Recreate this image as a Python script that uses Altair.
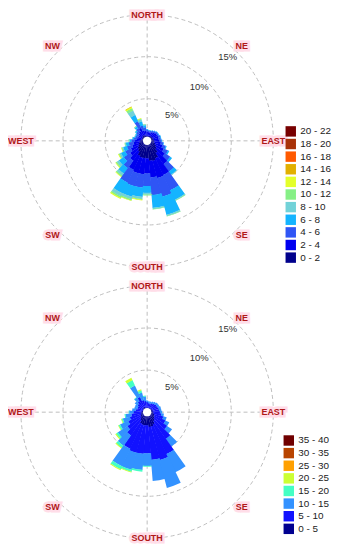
import altair as alt
import pandas as pd

# ---------------- data ----------------
directions = [0, 10, 20, 30, 40, 50, 60, 70, 80, 90, 100, 110, 120, 130, 140, 150, 160, 170,
              180, 190, 200, 210, 220, 230, 240, 250, 260, 270, 280, 290, 300, 310, 320, 330, 340, 350]

# Top rose: speed classes 0-2 ... 20-22 (percent frequency per direction)
top_bins = ["0 - 2", "2 - 4", "4 - 6", "6 - 8", "8 - 10", "10 - 12", "12 - 14",
            "14 - 16", "16 - 18", "18 - 20", "20 - 22"]
top_colors = ["#00008c", "#0000f0", "#2f55f5", "#14b4ff", "#72d2d8", "#86f086",
              "#e4ff2a", "#e2b000", "#ff5a00", "#a83208", "#780000"]
top_0_2 = [0.6, 0.6, 0.6, 0.65, 0.7, 0.75, 0.75, 0.8, 0.8, 0.85, 0.9, 1.0, 1.2, 1.4, 1.8, 2.3, 2.5, 2.4,
           2.1, 2.1, 2.1, 2.0, 1.6, 1.4, 1.2, 1.05, 0.95, 0.85, 0.75, 0.7, 0.7, 0.75, 0.8, 0.8, 0.7, 0.65]
top_2_4 = [0.5, 0.45, 0.45, 0.5, 0.55, 0.6, 0.6, 0.6, 0.6, 0.65, 0.75, 0.9, 1.0, 1.2, 1.6, 2.2, 2.1, 2.0,
           1.8, 1.9, 1.9, 1.8, 1.3, 1.1, 0.95, 0.8, 0.7, 0.6, 0.5, 0.45, 0.45, 0.5, 0.6, 0.9, 0.6, 0.55]
top_4_6 = [0.25, 0.2, 0.2, 0.2, 0.2, 0.2, 0.2, 0.25, 0.25, 0.25, 0.3, 0.4, 0.55, 0.75, 1.1, 2.0, 2.3, 2.1,
           1.5, 1.6, 1.6, 1.7, 1.1, 0.9, 0.75, 0.65, 0.55, 0.45, 0.35, 0.3, 0.3, 0.35, 0.45, 0.9, 0.6, 0.45]
top_6_8 = [0.05, 0.05, 0.05, 0.05, 0.05, 0.05, 0.05, 0.05, 0.05, 0.05, 0.05, 0.1, 0.15, 0.25, 0.45, 1.25, 2.2, 1.5,
           0.8, 1.1, 1.3, 1.4, 0.8, 0.7, 0.55, 0.45, 0.35, 0.2, 0.15, 0.1, 0.1, 0.15, 0.25, 0.8, 0.5, 0.25]
top_8_10 = [0, 0, 0, 0, 0, 0, 0, 0, 0, 0, 0, 0, 0, 0, 0.05, 0.1, 0.15, 0.15,
            0.2, 0.25, 0.3, 0.4, 0.3, 0.3, 0.2, 0.15, 0.1, 0.07, 0.05, 0.05, 0.05, 0.05, 0.07, 0.6, 0.25, 0.07]
top_10_12 = [0, 0, 0, 0, 0, 0, 0, 0, 0, 0, 0, 0, 0, 0, 0, 0.05, 0.05, 0.05,
             0.1, 0.1, 0.15, 0.2, 0.15, 0.15, 0.1, 0.07, 0.05, 0.03, 0, 0, 0, 0, 0.03, 0.3, 0.1, 0.03]
top_12_14 = [0, 0, 0, 0, 0, 0, 0, 0, 0, 0, 0, 0, 0, 0, 0, 0, 0, 0,
             0, 0.05, 0.05, 0.1, 0.05, 0.05, 0.05, 0.03, 0, 0, 0, 0, 0, 0, 0, 0.15, 0.05, 0]
top_14_16 = [0, 0, 0, 0, 0, 0, 0, 0, 0, 0, 0, 0, 0, 0, 0, 0, 0, 0,
             0, 0, 0, 0, 0, 0, 0, 0, 0, 0, 0, 0, 0, 0, 0, 0.05, 0, 0]
top_16_18 = [0] * 36
top_18_20 = [0] * 36
top_20_22 = [0] * 36

# Bottom rose: speed classes 0-5 ... 35-40
bot_bins = ["0 - 5", "5 - 10", "10 - 15", "15 - 20", "20 - 25", "25 - 30", "30 - 35", "35 - 40"]
bot_colors = ["#000090", "#1212ff", "#3392ff", "#44ffc4", "#ccff33", "#ffa000", "#b84400", "#700000"]
bot_0_5 = [0.6, 0.55, 0.55, 0.6, 0.6, 0.65, 0.65, 0.7, 0.7, 0.75, 0.8, 0.9, 1.0, 1.1, 1.3, 1.6, 1.8, 1.8,
           1.6, 1.6, 1.6, 1.5, 1.2, 1.0, 0.9, 0.8, 0.75, 0.7, 0.65, 0.6, 0.6, 0.65, 0.7, 0.7, 0.6, 0.55]
bot_5_10 = [0.6, 0.55, 0.55, 0.6, 0.65, 0.7, 0.7, 0.75, 0.75, 0.8, 0.9, 1.1, 1.4, 1.8, 2.6, 3.9, 4.1, 3.9,
            3.3, 3.4, 3.4, 3.3, 2.2, 1.9, 1.6, 1.35, 1.15, 0.95, 0.75, 0.65, 0.65, 0.75, 0.9, 1.3, 0.9, 0.8]
bot_10_15 = [0.2, 0.2, 0.2, 0.2, 0.25, 0.25, 0.25, 0.25, 0.25, 0.25, 0.3, 0.4, 0.5, 0.7, 1.1, 2.4, 3.4, 2.5,
             1.5, 1.9, 2.1, 2.3, 1.5, 1.35, 1.05, 0.85, 0.7, 0.5, 0.4, 0.35, 0.35, 0.4, 0.55, 1.5, 0.9, 0.55]
bot_15_20 = [0, 0, 0, 0, 0, 0, 0, 0, 0, 0, 0, 0, 0, 0, 0, 0, 0, 0,
             0.1, 0.2, 0.25, 0.4, 0.3, 0.25, 0.2, 0.15, 0.1, 0.05, 0, 0, 0, 0, 0.05, 0.7, 0.3, 0.1]
bot_20_25 = [0, 0, 0, 0, 0, 0, 0, 0, 0, 0, 0, 0, 0, 0, 0, 0, 0, 0,
             0, 0, 0.05, 0.1, 0.1, 0.1, 0.05, 0.05, 0, 0, 0, 0, 0, 0, 0, 0.3, 0.1, 0]
bot_25_30 = [0] * 36
bot_30_35 = [0] * 36
bot_35_40 = [0] * 36

ring_values = [5, 10, 15]
ring_labels = ["5%", "10%", "15%"]
compass_names = ["NORTH", "NE", "EAST", "SE", "SOUTH", "SW", "WEST", "NW"]
compass_angles = [0, 45, 90, 135, 180, 225, 270, 315]

# ---------------- helpers ----------------
W, H = 280, 264
R_PX = 127

theta_scale = alt.Scale(domain=[0, 360], range=[0, 6.283185307])
r_scale = alt.Scale(type="linear", domain=[0, 15], range=[0, R_PX], zero=True)
x_scale = alt.Scale(domain=[-15, 15], range=[W / 2 - R_PX, W / 2 + R_PX])
y_scale = alt.Scale(domain=[-15, 15], range=[H / 2 + R_PX, H / 2 - R_PX])


def stacked(bins, series):
    rows = []
    for i, d in enumerate(directions):
        cum = 0.0
        for b, s in zip(bins, series):
            v = s[i]
            if v > 0:
                rows.append({"dir": d, "t0": d - 5.4, "t1": d + 5.4,
                             "r0": max(cum - 0.03, 0), "r1": cum + v, "bin": b})
                cum += v
    return pd.DataFrame(rows)


def rose(bins, colors, series, lx, ly):
    df = stacked(bins, series)
    rings = alt.Chart(pd.DataFrame({"r": ring_values})).mark_arc(
        filled=False, stroke="#bdbdbd", strokeWidth=1, strokeDash=[4, 3], theta=0, theta2=6.2832
    ).encode(radius=alt.Radius("r:Q", scale=r_scale, stack=False))

    spokes = alt.Chart(pd.DataFrame({"x": [-15, 0], "x2": [15, 0], "y": [0, -15], "y2": [0, 15]})).mark_rule(
        stroke="#bdbdbd", strokeWidth=1, strokeDash=[4, 3]
    ).encode(
        x=alt.X("x:Q", scale=x_scale, axis=None), x2="x2:Q",
        y=alt.Y("y:Q", scale=y_scale, axis=None), y2="y2:Q",
    )

    bars = alt.Chart(df).mark_arc(strokeWidth=0).encode(
        theta=alt.Theta("t0:Q", scale=theta_scale, stack=False),
        theta2="t1:Q",
        radius=alt.Radius("r1:Q", scale=r_scale, stack=False),
        radius2="r0:Q",
        color=alt.Color(
            "bin:N",
            scale=alt.Scale(domain=bins[::-1], range=colors[::-1]),
            legend=alt.Legend(
                title=None, orient="none", legendX=lx, legendY=ly,
                symbolType="square", symbolSize=110, symbolStrokeWidth=0,
                labelFontSize=10, labelFont="Liberation Sans", labelColor="#222",
                rowPadding=1.7, labelOffset=4,
            ),
        ),
        order=alt.Order("r1:Q"),
    )

    hole = alt.Chart(pd.DataFrame({"r": [0.5]})).mark_arc(color="white", theta=0, theta2=6.2832).encode(
        radius=alt.Radius("r:Q", scale=r_scale, stack=False)
    )

    pct = alt.Chart(pd.DataFrame({"a": [44, 44, 44], "r": [4.2, 8.9, 13.8], "t": ring_labels})).mark_text(
        fontSize=9.5, font="Liberation Sans", color="#333"
    ).encode(
        theta=alt.Theta("a:Q", scale=theta_scale, stack=False),
        radius=alt.Radius("r:Q", scale=r_scale, stack=False),
        text="t:N",
    )

    cdf = pd.DataFrame({
        "a": compass_angles,
        "r": [15.0 if a % 90 == 0 else 15.9 for a in compass_angles],
        "t": compass_names,
    })
    enc = dict(
        theta=alt.Theta("a:Q", scale=theta_scale, stack=False),
        radius=alt.Radius("r:Q", scale=r_scale, stack=False),
        text="t:N",
    )
    halo = alt.Chart(cdf).mark_text(
        fontSize=9, fontWeight="bold", font="Liberation Sans",
        color="#ffdde8", stroke="#ffdde8", strokeWidth=5, strokeJoin="miter"
    ).encode(**enc)
    names = alt.Chart(cdf).mark_text(
        fontSize=9, fontWeight="bold", font="Liberation Sans", color="#b01818"
    ).encode(**enc)

    return alt.layer(rings, spokes, bars, hole, pct, halo, names).properties(width=W, height=H)


top = rose(top_bins, top_colors,
           [top_0_2, top_2_4, top_4_6, top_6_8, top_8_10, top_10_12, top_12_14,
            top_14_16, top_16_18, top_18_20, top_20_22], 279, 117)
bottom = rose(bot_bins, bot_colors,
              [bot_0_5, bot_5_10, bot_10_15, bot_15_20, bot_20_25, bot_25_30, bot_30_35, bot_35_40], 277, 155)

chart = alt.vconcat(top, bottom, spacing=9, bounds="flush").resolve_scale(
    color="independent"
).properties(padding=0).configure_view(stroke=None)

chart.save("out.html", embed_options={"renderer": "svg", "actions": False})
